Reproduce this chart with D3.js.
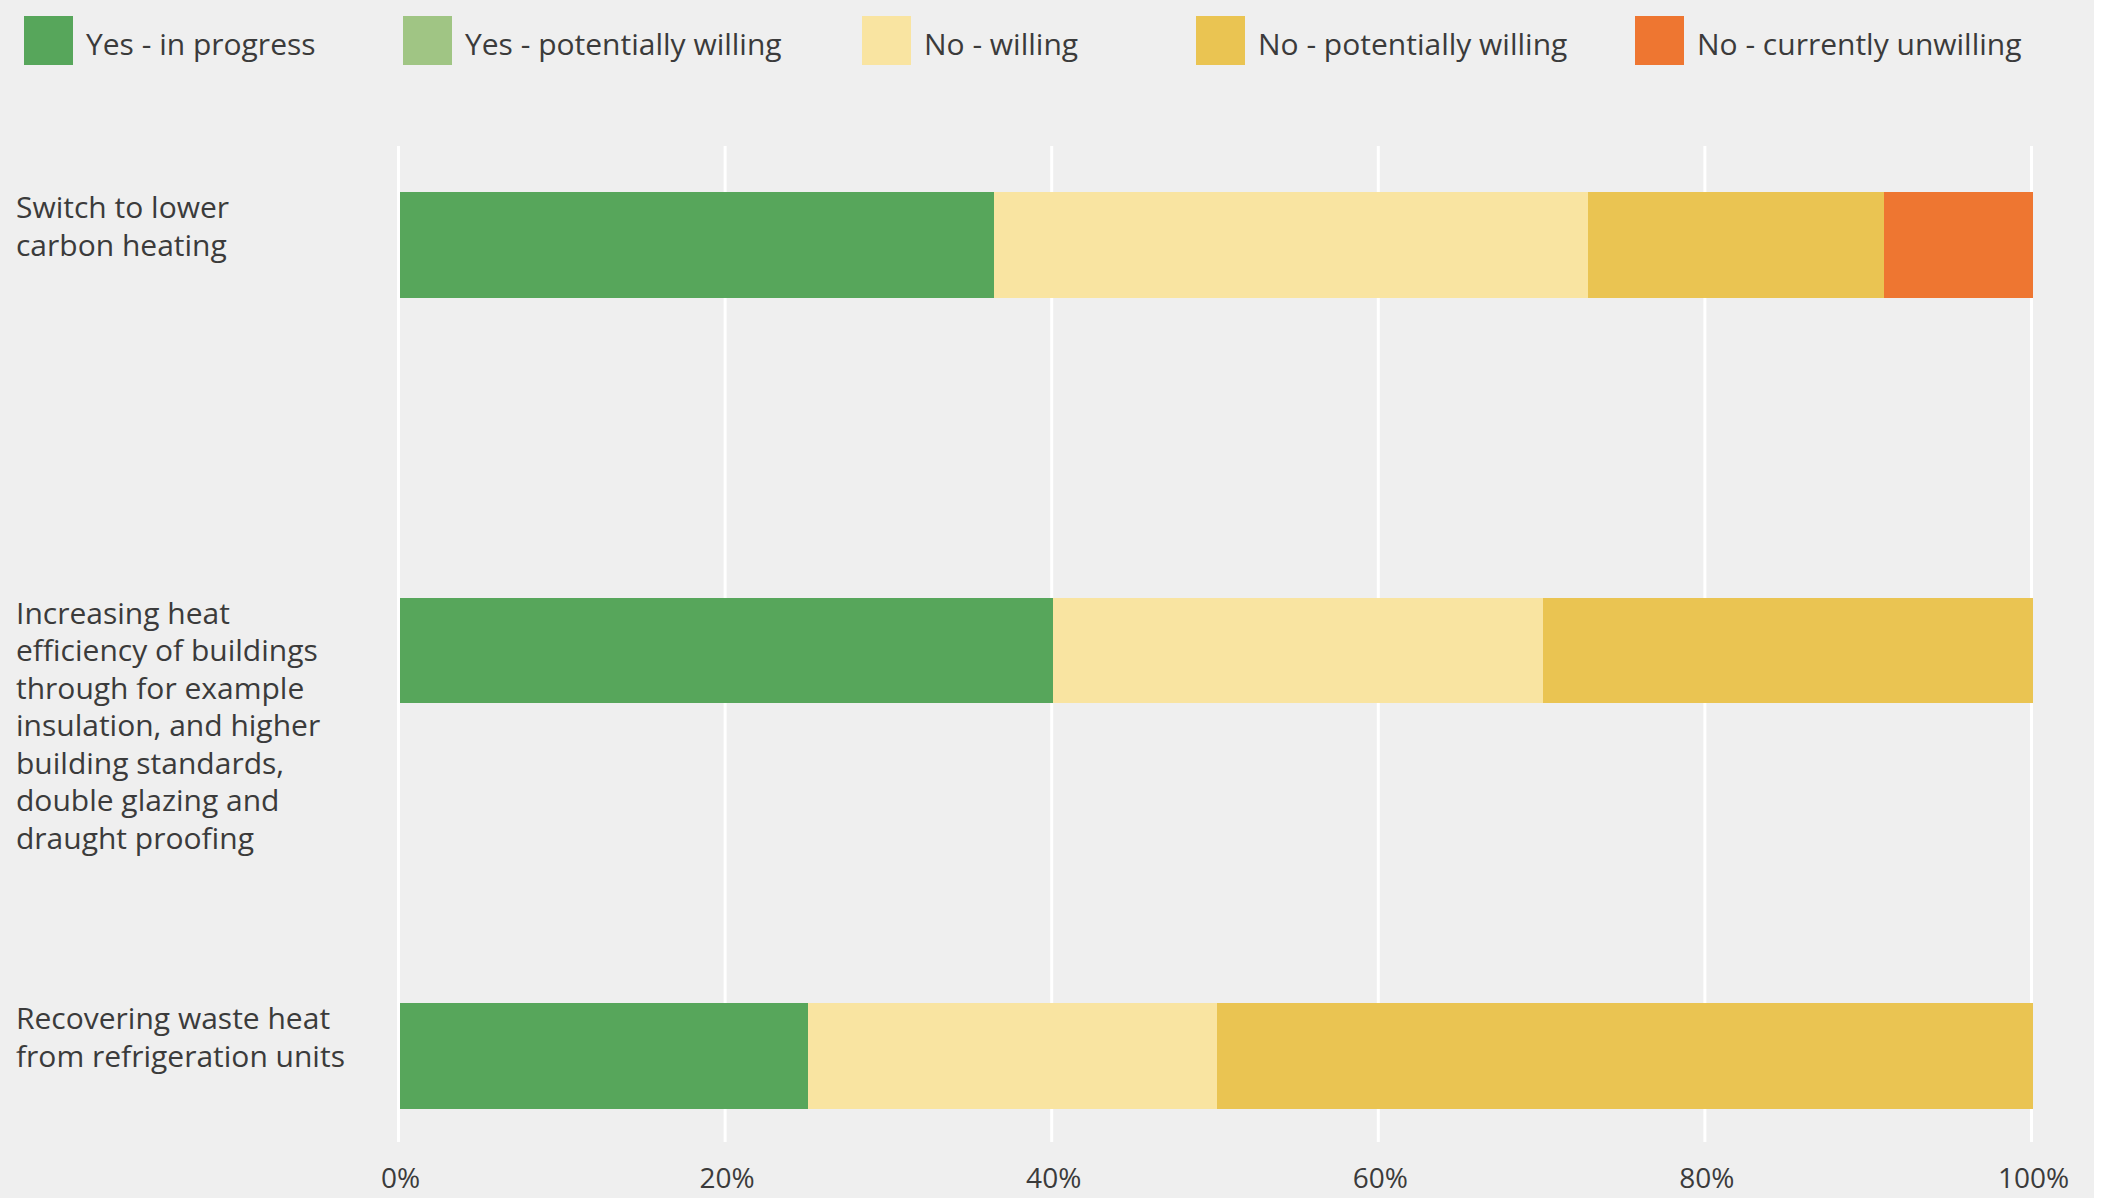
<!DOCTYPE html>
<html>
<head>
<meta charset="utf-8">
<script src="https://cdn.jsdelivr.net/npm/d3@7"></script>
<style>
  html, body { margin: 0; padding: 0; background: #ffffff; }
  svg { display: block; }
  text { font-family: "Open Sans", "Lato", sans-serif; fill: #3b3b3b; }
</style>
</head>
<body>
<svg id="chart" width="2112" height="1198"></svg>
<script>
// ---- Data ----
const categories = [
  "Switch to lower carbon heating",
  "Increasing heat efficiency of buildings through for example insulation, and higher building standards, double glazing and draught proofing",
  "Recovering waste heat from refrigeration units"
];
const categoryLines = [
  ["Switch to lower", "carbon heating"],
  ["Increasing heat", "efficiency of buildings", "through for example", "insulation, and higher", "building standards,", "double glazing and", "draught proofing"],
  ["Recovering waste heat", "from refrigeration units"]
];
const seriesNames = ["Yes - in progress", "Yes - potentially willing", "No - willing", "No - potentially willing", "No - currently unwilling"];
const seriesColors = ["#57a65b", "#a0c584", "#f9e4a1", "#eac452", "#ee7631"];
const yesInProgress       = [36.36, 40, 25];
const yesPotentiallyWilling = [0, 0, 0];
const noWilling           = [36.36, 30, 25];
const noPotentiallyWilling = [18.18, 30, 50];
const noCurrentlyUnwilling = [9.09, 0, 0];
const tickValues = [0, 20, 40, 60, 80, 100];
const tickLabels = ["0%", "20%", "40%", "60%", "80%", "100%"];

const seriesValues = [yesInProgress, yesPotentiallyWilling, noWilling, noPotentiallyWilling, noCurrentlyUnwilling];

// ---- Build table ----
const table = categories.map((c, i) => {
  const row = { category: c };
  seriesNames.forEach((s, j) => { row[s] = seriesValues[j][i]; });
  return row;
});
const stacked = d3.stack().keys(seriesNames)(table);

// ---- Layout ----
const svg = d3.select("#chart");
svg.append("rect").attr("x", 0).attr("y", 0).attr("width", 2094).attr("height", 1198).attr("fill", "#efefef");

const x = d3.scaleLinear().domain([0, 100]).range([400, 2033]);
const y = d3.scaleBand().domain(categories).range([192, 1109]).paddingInner(0.7386).paddingOuter(0);

// gridlines
const grid = svg.append("g");
grid.selectAll("line").data(tickValues).join("line")
  .attr("x1", d => x(d) - 1.5).attr("x2", d => x(d) - 1.5)
  .attr("y1", 146).attr("y2", 1142)
  .attr("stroke", "#ffffff").attr("stroke-width", 3);

// bars
const colorOf = d3.scaleOrdinal().domain(seriesNames).range(seriesColors);
svg.append("g").selectAll("g").data(stacked).join("g")
  .attr("fill", d => colorOf(d.key))
  .selectAll("rect").data(d => d.filter(p => p[1] - p[0] > 0)).join("rect")
  .attr("x", d => x(d[0]))
  .attr("width", d => x(d[1]) - x(d[0]))
  .attr("y", d => y(d.data.category))
  .attr("height", y.bandwidth())
  .attr("shape-rendering", "crispEdges");

// x axis labels
const xAxis = d3.axisBottom(x).tickValues(tickValues).tickFormat((d, i) => tickLabels[i]).tickSize(0).tickPadding(0);
const ax = svg.append("g").attr("transform", "translate(0,1188)").call(xAxis);
ax.select(".domain").remove();
ax.selectAll("text").attr("dy", 0).attr("font-size", 28).attr("fill", "#3b3b3b")
  .style("font-family", '"Open Sans", "Lato", sans-serif');

// category labels
const labels = svg.append("g");
categories.forEach((c, i) => {
  const t = labels.append("text")
    .attr("x", 16)
    .attr("y", y(c) + 26)
    .attr("font-size", 30);
  categoryLines[i].forEach((ln, k) => {
    t.append("tspan").attr("x", 16).attr("dy", k === 0 ? 0 : 37.5).text(ln);
  });
});

// legend
const legendX = [24, 403, 862, 1196, 1635];
const legend = svg.append("g");
seriesNames.forEach((s, i) => {
  legend.append("rect").attr("x", legendX[i]).attr("y", 16).attr("width", 49).attr("height", 49).attr("fill", seriesColors[i]);
  legend.append("text").attr("x", legendX[i] + 62).attr("y", 55).attr("font-size", 30).text(s);
});
</script>
</body>
</html>
